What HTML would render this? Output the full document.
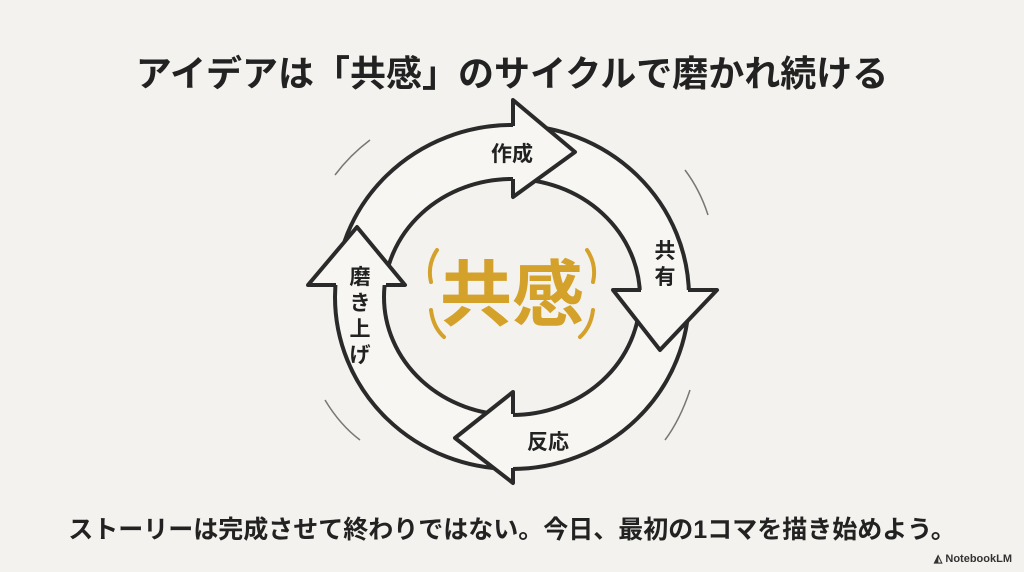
<!DOCTYPE html>
<html><head><meta charset="utf-8"><style>
body{margin:0;width:1024px;height:572px;background:#f4f2ee;overflow:hidden;position:relative;font-family:"Liberation Sans","Noto Sans CJK JP",sans-serif;}
.t{position:absolute;left:0;width:1024px;text-align:center;font-weight:bold;color:#222;white-space:nowrap;}
</style></head><body>
<div class="t" style="top:45px;font-size:36px;">アイデアは「共感」のサイクルで磨かれ続ける</div>
<svg width="1024" height="572" style="position:absolute;left:0;top:0">
<g stroke="#2a2a2a" stroke-width="4" fill="none">
<ellipse cx="512" cy="297" rx="177" ry="172" fill="#f7f6f2"/>
<ellipse cx="512" cy="297" rx="128" ry="118" fill="#f4f2ee"/>
</g>
<g fill="#f7f6f2" stroke="none">
<polygon points="513,100 575,152 513,197"/>
<polygon points="613,290 717,290 660,350"/>
<polygon points="513,392 455,438 513,483"/>
<polygon points="308,285 357,227 405,285"/>
</g>
<g stroke="#2a2a2a" stroke-width="4" fill="none" stroke-linejoin="round">
<polyline points="513,126 513,100 575,152 513,197 513,179"/>
<polyline points="641,290 613,290 660,350 717,290 688,290"/>
<polyline points="513,414 513,392 455,438 513,483 513,468"/>
<polyline points="336,285 308,285 357,227 405,285 386,285"/>
</g>
<g stroke="#777" stroke-width="1.5" fill="none">
<path d="M335,175 Q350,155 370,140"/><path d="M685,170 Q700,190 708,215"/>
<path d="M325,400 Q340,425 360,440"/><path d="M690,390 Q680,420 665,440"/>
</g>
<g font-family="Liberation Sans, Noto Sans CJK JP, sans-serif" font-weight="bold" fill="#222">
<text x="512" y="161" font-size="21" text-anchor="middle">作成</text>
<text x="665" y="258" font-size="21" text-anchor="middle">共</text>
<text x="665" y="284" font-size="21" text-anchor="middle">有</text>
<text x="360" y="284" font-size="21" text-anchor="middle">磨</text>
<text x="360" y="310" font-size="21" text-anchor="middle">き</text>
<text x="360" y="336" font-size="21" text-anchor="middle">上</text>
<text x="360" y="362" font-size="21" text-anchor="middle">げ</text>
<text x="548" y="449" font-size="21" text-anchor="middle">反応</text>
</g>
<text x="512" y="320" font-size="72" font-weight="bold" fill="#d4a22a" text-anchor="middle" font-family="Liberation Sans, Noto Sans CJK JP, sans-serif">共感</text>
<g stroke="#d4a22a" stroke-width="4" fill="none" stroke-linecap="round">
<path d="M437,250 Q427,265 431,282"/><path d="M587,250 Q597,265 593,282"/>
<path d="M431,310 Q433,327 444,337"/><path d="M593,310 Q591,327 580,337"/>
</g>
</svg>
<div class="t" style="top:510px;font-size:25px;">ストーリーは完成させて終わりではない。今日、最初の1コマを描き始めよう。</div>
<div style="position:absolute;right:12px;top:552px;font-size:11px;font-weight:bold;color:#333;">◭ NotebookLM</div>
</body></html>
